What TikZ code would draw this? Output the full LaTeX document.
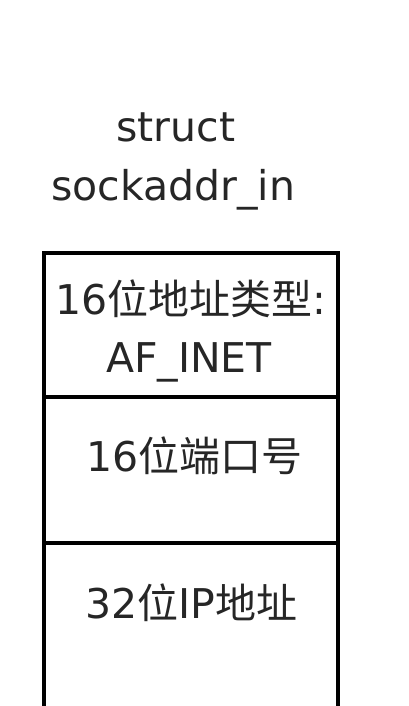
\documentclass[tikz,border=0pt]{standalone}
\usepackage{fontspec}
\setmainfont{DejaVu Sans}
\newfontfamily\cjk{Noto Sans CJK SC}
\usetikzlibrary{positioning}

\begin{document}
\begin{tikzpicture}[x = 1pt, y = -1pt,
  cell/.style = {draw, line width = 4pt, minimum width = 294pt, anchor = north west, inner sep = 0pt, outer sep = 0pt},
  txt/.style = {font = \fontsize{41}{58}\selectfont, text = black!85, inner sep = 0pt}]
\useasboundingbox (0, 0) rectangle (408, 706);
\clip (0, 0) rectangle (408, 706);
%\draw[very thin, color = gray](0, 0) grid[step = 50] (408, 706);
\node [cell, minimum height = 144pt] (type) at (44, 253) {};
\node [cell, minimum height = 146pt] (port) at (44, 397) {};
\node [cell, minimum height = 210pt] (addr) at (44, 543) {};
\node [txt, anchor = base] (title1) at (176, 142) {struct};
\node [txt, anchor = base] (title2) at (173, 200) {sockaddr\_in};
\node [txt, anchor = base] (type1) at (191, 314) {16{\cjk 位地址类型}:};
\node [txt, anchor = base] (type2) at (189, 372) {AF\_INET};
\node [txt, anchor = base west] (port1) at (86, 471) {16{\cjk 位端口号}};
\node [txt, anchor = base west] (addr1) at (85, 618) {32{\cjk 位}IP{\cjk 地址}};
\end{tikzpicture}
\end{document}
